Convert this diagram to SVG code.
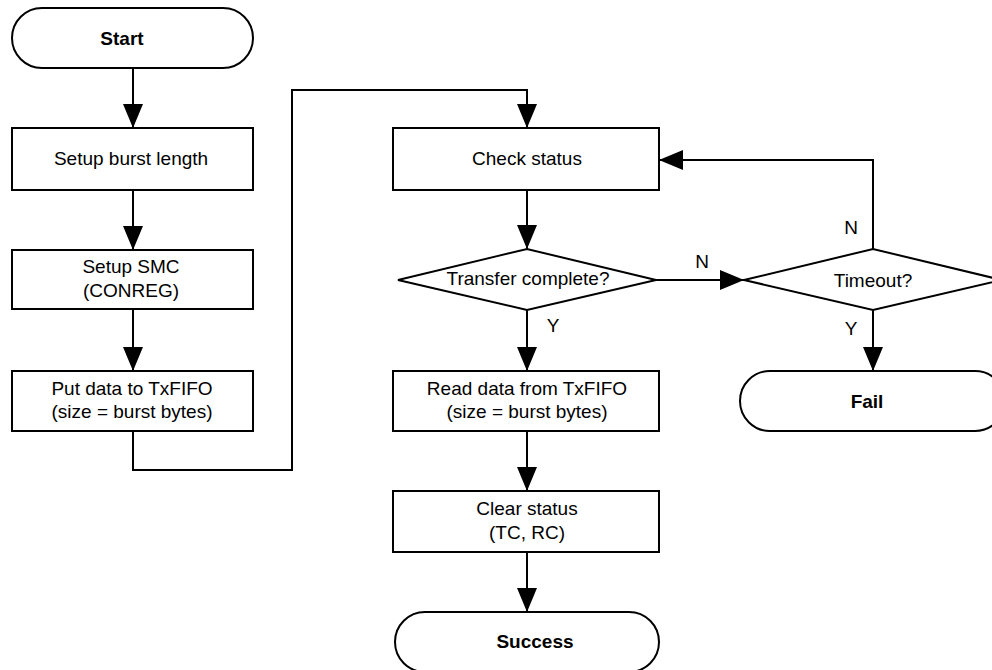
<svg xmlns="http://www.w3.org/2000/svg" width="992" height="670" viewBox="0 0 992 670">
  <style>
    .shape { fill: #fff; stroke: #000; stroke-width: 2; }
    .edge { fill: none; stroke: #000; stroke-width: 2; marker-end: url(#arrow); }
    text { font-family: "Liberation Sans", Arial, Helvetica, sans-serif; font-size: 19px; fill: #000; text-anchor: middle; }
    .bold { font-weight: bold; }
  </style>
  <defs>
    <marker id="arrow" viewBox="0 0 24 20" refX="24" refY="10" markerWidth="24" markerHeight="20" markerUnits="userSpaceOnUse" orient="auto">
      <path d="M0,0 L24,10 L0,20 Z" fill="#000"/>
    </marker>
  </defs>
  <rect width="992" height="670" fill="#fff"/>

  <!-- connectors -->
  <g id="connectors">
    <path class="edge" d="M133,68 L133,128"/>
    <path class="edge" d="M133,190 L133,250"/>
    <path class="edge" d="M133,309 L133,371"/>
    <path class="edge" d="M133,431 L133,470 L292,470 L292,90 L527,90 L527,128"/>
    <path class="edge" d="M527,190 L527,249"/>
    <path class="edge" d="M527,310 L527,371"/>
    <path class="edge" d="M527,431 L527,491"/>
    <path class="edge" d="M527,552 L527,612"/>
    <path class="edge" d="M656,280 L744,280"/>
    <path class="edge" d="M873,249 L873,160 L659,160"/>
    <path class="edge" d="M873,310 L873,371"/>
    <text x="702" y="268">N</text>
    <text x="553" y="332">Y</text>
    <text x="851" y="234">N</text>
    <text x="851" y="335">Y</text>
  </g>

  <!-- nodes -->
  <g id="start">
    <rect class="shape" x="12" y="8" width="241" height="60" rx="30" ry="30"/>
    <text class="bold" x="122" y="45">Start</text>
  </g>
  <g id="setup-burst">
    <rect class="shape" x="12" y="128" width="241" height="62"/>
    <text x="131" y="165">Setup burst length</text>
  </g>
  <g id="setup-smc">
    <rect class="shape" x="12" y="250" width="241" height="59"/>
    <text x="131" y="273">Setup SMC</text>
    <text x="131" y="297">(CONREG)</text>
  </g>
  <g id="put-data">
    <rect class="shape" x="12" y="371" width="241" height="60"/>
    <text x="132" y="395">Put data to TxFIFO</text>
    <text x="132" y="418">(size = burst bytes)</text>
  </g>
  <g id="check-status">
    <rect class="shape" x="393" y="128" width="266" height="62"/>
    <text x="527" y="165">Check status</text>
  </g>
  <g id="transfer-complete">
    <polygon class="shape" points="398,280 527,249 656,280 527,310"/>
    <text x="528" y="285">Transfer complete?</text>
  </g>
  <g id="timeout">
    <polygon class="shape" points="744,280 873,249 1002,280 873,310"/>
    <text x="873" y="287">Timeout?</text>
  </g>
  <g id="fail">
    <rect class="shape" x="740" y="371" width="265" height="60" rx="30" ry="30"/>
    <text class="bold" x="867" y="408">Fail</text>
  </g>
  <g id="read-data">
    <rect class="shape" x="393" y="371" width="266" height="60"/>
    <text x="527" y="395">Read data from TxFIFO</text>
    <text x="527" y="418">(size = burst bytes)</text>
  </g>
  <g id="clear-status">
    <rect class="shape" x="393" y="491" width="266" height="61"/>
    <text x="527" y="515">Clear status</text>
    <text x="527" y="539">(TC, RC)</text>
  </g>
  <g id="success">
    <rect class="shape" x="395" y="612" width="264" height="60" rx="30" ry="30"/>
    <text class="bold" x="535" y="648">Success</text>
  </g>
</svg>
